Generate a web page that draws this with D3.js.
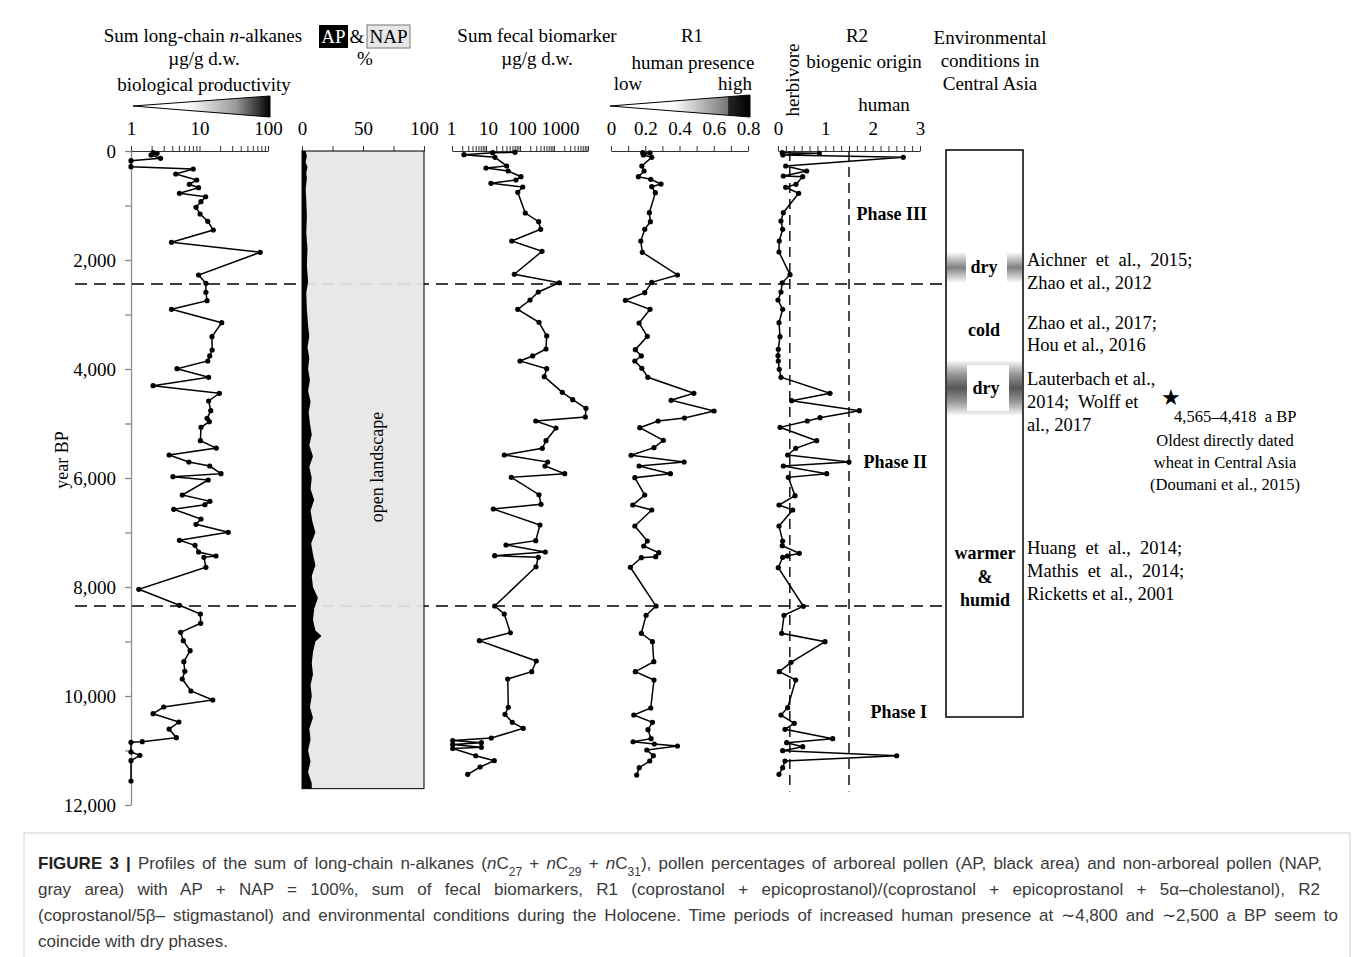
<!DOCTYPE html>
<html>
<head>
<meta charset="utf-8">
<script src="https://cdn.jsdelivr.net/npm/d3@7"></script>
<style>
  body { margin: 0; background: #fff; }
  svg text { font-family: "Liberation Serif", "Times New Roman", serif; }
  .cap { font-family: "Liberation Sans", Arial, sans-serif; font-size: 17px; fill: #3a3a3a; }
</style>
</head>
<body>
<svg id="chart" width="1357" height="957"></svg>
<script>
// ---- data: [year BP, value] ----
const alkanes = [[31,2.1],[42,2.4],[73,1.96],[134,2.7],[178,1.0],[288,1.0],[330,8.1],[422,4.5],[532,9.1],[611,7.1],
  [673,9.7],[776,5.1],[839,12.3],[930,10.5],[1033,8.9],[1156,10.2],[1290,13.2],[1450,15.9],[1675,3.9],[1859,77],
  [2275,9.7],[2428,12.4],[2593,12.4],[2747,12.9],[2905,3.9],[3150,21.1],[3407,15.2],[3651,15.3],[3761,14.1],[3853,13.2],
  [3994,4.7],[4152,13.6],[4306,2.1],[4446,19.5],[4587,13.6],[4765,14.6],[4905,12.9],[4967,13.9],[5070,10.5],[5316,10.3],
  [5450,17.6],[5578,3.6],[5706,7.0],[5780,14.1],[5921,20.6],[5976,4.1],[6037,13.4],[6312,5.6],[6428,14.2],[6490,12.0],
  [6574,4.2],[6752,10.5],[6850,8.9],[6996,26.3],[7143,5.1],[7235,8.6],[7358,9.7],[7431,17.4],[7455,11.6],[7639,12.4],
  [8042,1.3],[8336,5.1],[8495,10.3],[8666,10.4],[8831,5.3],[8985,5.8],[9169,7.3],[9370,5.9],[9547,6.1],[9688,5.6],
  [9908,7.5],[10073,15.6],[10202,3.0],[10325,2.1],[10477,5.0],[10606,3.6],[10765,4.6],[10838,1.46],[10850,1.0],[11028,1.0],
  [11088,1.35],[11187,1.0],[11560,1.0]];

const arborealPollen = [[0,3],[100,4],[200,3],[300,4.5],[400,3.5],[500,4],[700,3],[900,3.5],[1200,4],[1500,3.5],
  [1800,4.5],[2100,4],[2400,5],[2600,3.5],[2900,4],[3200,5],[3400,6],[3600,4.5],[3800,6],[4000,5],[4200,6.5],[4400,5],
  [4600,7],[4800,5.5],[5000,6.5],[5200,8],[5400,6],[5600,9],[5800,6],[6000,8],[6200,7],[6400,10],[6600,7],[6800,8.5],
  [7000,11],[7200,7.5],[7400,9],[7600,11],[7800,8],[8000,9],[8200,13],[8400,10],[8600,9],[8800,11],[8900,16],[9000,11],
  [9200,9],[9400,8],[9600,9],[9800,7],[10000,8],[10200,6.5],[10400,9],[10600,6],[10800,7],[11000,5],[11200,7],[11400,5],
  [11600,8],[11700,8]];

const fecal = [[24,71],[31,15.7],[68,2.25],[116,18.4],[275,40.6],[312,10],[367,45],[472,107],[532,76],[593,14],
  [661,120],[758,86],[1138,143],[1297,355],[1437,406],[1651,57],[1840,444],[2262,68],[2417,1432],[2587,345],
  [2734,197],[2905,86],[3143,362],[3394,610],[3633,582],[3761,236],[3853,100],[3994,610],[4141,518],[4428,1754],
  [4563,3550],[4721,8710],[4881,8320],[4954,290],[5083,1145],[5316,582],[5455,453],[5578,34.5],[5706,653],[5780,543],
  [5921,2065],[5987,55.5],[6307,362],[6483,415],[6569,16.4],[6862,387],[7150,290],[7229,38.7],[7358,554],[7426,18],
  [7455,345],[7628,295],[8349,18],[8495,34.5],[8839,52],[8985,6.4],[9358,301],[9554,221],[9688,43.5],[10207,45.3],
  [10336,36.2],[10483,59.4],[10593,125],[10771,14.3],[10817,1.05],[10857,7.3],[10890,1.05],[10941,7.3],[10963,1.05],
  [11096,5.0],[11187,17.5],[11303,6.7],[11437,2.9]];

const r1 = [[31,.185],[35,.228],[73,.189],[116,.238],[275,.18],[367,.193],[472,.16],[519,.232],[606,.292],[655,.238],
  [765,.259],[1132,.224],[1297,.23],[1437,.197],[1651,.174],[1859,.183],[2275,.388],[2409,.238],[2600,.197],[2739,.084],
  [2905,.228],[3156,.164],[3400,.212],[3646,.142],[3761,.177],[3853,.139],[3987,.18],[4152,.215],[4446,.484],[4574,.351],
  [4771,.602],[4899,.429],[4954,.275],[5077,.168],[5308,.306],[5444,.251],[5583,.117],[5706,.427],[5780,.164],[5921,.347],
  [5994,.139],[6312,.197],[6495,.127],[6587,.238],[6881,.139],[7156,.212],[7248,.191],[7371,.279],[7444,.261],[7462,.177],
  [7638,.113],[8349,.263],[8519,.205],[8850,.177],[9004,.242],[9371,.25],[9554,.142],[9706,.251],[10220,.232],[10349,.133],
  [10483,.242],[10618,.216],[10783,.234],[10839,.129],[10881,.253],[10917,.388],[10991,.209],[11095,.247],[11193,.226],
  [11316,.165],[11450,.15]];

const r2 = [[31,.09],[42,.873],[73,.106],[116,2.647],[275,.163],[367,.606],[459,.112],[472,.522],[611,.38],[666,.163],
  [776,.437],[1132,.112],[1284,.063],[1437,.099],[1651,.027],[1853,.021],[2270,.254],[2417,.09],[2587,.063],[2734,0],
  [2905,.099],[3150,.021],[3407,.042],[3639,.006],[3756,0],[3853,.006],[4006,.027],[4152,.063],[4446,1.099],[4582,.289],
  [4765,1.718],[4894,.887],[4954,.619],[5070,.042],[5316,.818],[5455,.374],[5578,.205],[5706,1.5],[5780,.112],[5921,1.029],
  [5987,.218],[6325,.359],[6495,.021],[6587,.311],[6881,.021],[7156,.099],[7242,.09],[7382,.45],[7431,.196],[7455,.099],
  [7646,.006],[8354,.535],[8519,.127],[8850,.078],[9004,.993],[9382,.275],[9554,.027],[9706,.374],[10215,.205],[10349,.063],
  [10501,.344],[10611,.148],[10783,1.156],[10857,.184],[10930,.522],[11004,.099],[11096,2.508],[11193,.148],[11316,.099],
  [11437,.021]];

const phaseBounds = [2440, 8350];          // horizontal dashed lines
const r2Thresholds = [0.25, 1.5];          // herbivore / human
const phases = [["Phase III", 1150], ["Phase II", 5700], ["Phase I", 10300]];
const yearTicks = d3.range(0, 12001, 1000);

const svg = d3.select("#chart");

// scales
const y = d3.scaleLinear().domain([0, 12000]).range([151, 805]);
const xAlk = d3.scaleLog().domain([1, 100]).range([131, 268]);
const xAP = d3.scaleLinear().domain([0, 100]).range([302, 424]);
const xFec = d3.scaleLog().domain([1, 10000]).range([452, 588]);
const xR1 = d3.scaleLinear().domain([0, 0.8]).range([611, 748]);
const xR2 = d3.scaleLinear().domain([0, 3]).range([778, 920]);

const defs = svg.append("defs");
function hGrad(id, stops, vertical) {
  const g = defs.append("linearGradient").attr("id", id)
    .attr("x1", 0).attr("y1", 0).attr("x2", vertical ? 0 : 1).attr("y2", vertical ? 1 : 0);
  stops.forEach(s => g.append("stop").attr("offset", s[0]).attr("stop-color", s[1]));
}
hGrad("wedgeAlk", [[0, "#fff"], [0.4, "#fff"], [0.75, "#999"], [1, "#000"]]);
hGrad("wedgeR1", [[0, "#fff"], [0.45, "#fff"], [0.84, "#777"], [0.86, "#222"], [1, "#000"]]);
hGrad("dry1", [[0, "#fff"], [0.5, "#808080"], [1, "#fff"]], true);
hGrad("dry2", [[0, "#fff"], [0.25, "#999"], [0.5, "#555"], [0.75, "#999"], [1, "#fff"]], true);

// ---- y axis ----
const yAx = svg.append("g").attr("transform", "translate(131,0)")
  .call(d3.axisLeft(y).tickValues(yearTicks).tickSize(6).tickSizeOuter(0).tickPadding(9)
    .tickFormat(d => d % 2000 === 0 ? d3.format(",")(d) : ""));
yAx.selectAll("path,line").attr("stroke", "#8a8a8a").attr("stroke-width", 1.3);
yAx.selectAll("text").attr("font-size", 19).attr("font-family", "Liberation Serif").attr("fill", "#000");
svg.append("text").attr("transform", "translate(62,460) rotate(-90)")
  .attr("text-anchor", "middle").attr("dy", "0.32em").attr("font-size", 18).text("year BP");

// ---- top axes ----
function topAxis(scale, minor, major, fmt, shifts) {
  const g = svg.append("g").attr("transform", "translate(0,151)")
    .call(d3.axisTop(scale).tickValues(minor).tickSize(5).tickSizeOuter(0).tickFormat(""));
  g.selectAll("path,line").attr("stroke", "#333");
  const l = svg.append("g").attr("transform", "translate(0,151)")
    .call(d3.axisTop(scale).tickValues(major).tickSize(0).tickPadding(16).tickFormat(fmt));
  l.select(".domain").remove();
  l.selectAll("text").attr("font-size", 19).attr("font-family", "Liberation Serif").attr("fill", "#000")
    .attr("dx", (d, i) => shifts ? shifts[i] : 0);
}
const logMinor = dec => d3.range(0, dec).flatMap(e => d3.range(1, 10).map(m => m * 10 ** e)).concat([10 ** dec]);
topAxis(xAlk, logMinor(2), [1, 10, 100], d3.format("d"));
topAxis(xAP, [0, 25, 50, 75, 100], [0, 50, 100], d3.format("d"));
topAxis(xFec, logMinor(4).filter(v => v <= 10000), [1, 10, 100, 1000], d3.format("d"), [-1, 2, 2, 6]);
topAxis(xR1, d3.range(0, 9).map(i => i / 10), [0, 0.2, 0.4, 0.6, 0.8], d => d === 0 ? "0" : d3.format(".1f")(d));
topAxis(xR2, d3.range(0, 19).map(i => i / 6), [0, 1, 2, 3], d3.format("d"));

// ---- phase boundaries (stop at the environment column) ----
phaseBounds.forEach(b => {
  svg.append("line").attr("x1", 75).attr("x2", 946).attr("y1", y(b)).attr("y2", y(b))
    .attr("stroke", "#000").attr("stroke-width", 1.5).attr("stroke-dasharray", "12,7");
});

// ---- AP / NAP panel ----
svg.append("rect").attr("x", xAP(0)).attr("y", y(0)).attr("width", xAP(100) - xAP(0))
  .attr("height", y(11700) - y(0)).attr("fill", "#e6e6e6").attr("fill-opacity", 0.92)
  .attr("stroke", "#000").attr("stroke-width", 1);
svg.append("path").datum(arborealPollen)
  .attr("d", d3.area().y(d => y(d[0])).x0(xAP(0)).x1(d => xAP(d[1])))
  .attr("fill", "#000");
svg.append("text").attr("transform", `translate(${xAP(62)},${y(5800)}) rotate(-90)`)
  .attr("text-anchor", "middle").attr("dy", "0.32em").attr("font-size", 18).text("open landscape");

// ---- R2 threshold lines ----
r2Thresholds.forEach(t => {
  svg.append("line").attr("x1", xR2(t)).attr("x2", xR2(t)).attr("y1", y(0)).attr("y2", y(11750))
    .attr("stroke", "#000").attr("stroke-width", 1.4).attr("stroke-dasharray", "10,6");
});

// ---- profiles ----
function profile(data, xs) {
  svg.append("path").datum(data)
    .attr("d", d3.line().x(d => xs(d[1])).y(d => y(d[0])))
    .attr("fill", "none").attr("stroke", "#000").attr("stroke-width", 1.5);
  svg.append("g").selectAll("circle").data(data).join("circle")
    .attr("cx", d => xs(d[1])).attr("cy", d => y(d[0])).attr("r", 2.6).attr("fill", "#000");
}
profile(alkanes, xAlk);
profile(fecal, xFec);
profile(r1, xR1);
profile(r2, xR2);

// ---- headers ----
function label(x, yy, txt, opts = {}) {
  const t = svg.append("text").attr("x", x).attr("y", yy).attr("text-anchor", opts.anchor || "middle")
    .attr("dy", "0.34em").attr("font-size", opts.size || 19);
  if (opts.bold) t.attr("font-weight", "bold");
  t.text(txt);
  return t;
}
phases.forEach(p => label(927, y(p[1]), p[0], { anchor: "end", size: 18, bold: true }));

const h1 = svg.append("text").attr("x", 203).attr("y", 36).attr("text-anchor", "middle")
  .attr("dy", "0.34em").attr("font-size", 19);
h1.append("tspan").text("Sum long-chain ");
h1.append("tspan").attr("font-style", "italic").text("n");
h1.append("tspan").text("-alkanes");
label(204, 59, "µg/g d.w.");
label(204, 85, "biological productivity");
svg.append("path").attr("d", "M133,106 L270,96 L270,117 Z").attr("fill", "url(#wedgeAlk)").attr("stroke", "#000");

svg.append("rect").attr("x", 319).attr("y", 25).attr("width", 29).attr("height", 23).attr("fill", "#000");
label(333.5, 37, "AP").attr("fill", "#fff");
label(357, 37, "&");
svg.append("rect").attr("x", 367).attr("y", 25).attr("width", 43).attr("height", 23).attr("fill", "#e6e6e6").attr("stroke", "#777");
label(388.5, 37, "NAP");
label(365, 59, "%");

label(537, 36, "Sum fecal biomarker");
label(537, 59, "µg/g d.w.");

label(692, 36, "R1");
label(693, 63, "human presence");
label(628, 84, "low");
label(735, 84, "high");
svg.append("path").attr("d", "M610,106 L750,95 L750,117 Z").attr("fill", "url(#wedgeR1)").attr("stroke", "#000");
svg.append("line").attr("x1", 729).attr("x2", 729).attr("y1", 97).attr("y2", 115).attr("stroke", "#000");

label(857, 36, "R2");
label(864, 62, "biogenic origin");
svg.append("text").attr("transform", "translate(793,80) rotate(-90)").attr("text-anchor", "middle")
  .attr("dy", "0.34em").attr("font-size", 19).text("herbivore");
label(884, 105, "human");

label(990, 38, "Environmental");
label(990, 61, "conditions in");
label(990, 84, "Central Asia");

// ---- environmental conditions column ----
svg.append("rect").attr("x", 946).attr("y", 150).attr("width", 77).attr("height", 567)
  .attr("fill", "#fff").attr("stroke", "#000").attr("stroke-width", 1.5);
svg.append("rect").attr("x", 947).attr("y", 252).attr("width", 75).attr("height", 31).attr("fill", "url(#dry1)");
svg.append("rect").attr("x", 966).attr("y", 252).attr("width", 41).attr("height", 31).attr("fill", "#fff");
svg.append("rect").attr("x", 947).attr("y", 360).attr("width", 75).attr("height", 56).attr("fill", "url(#dry2)");
svg.append("rect").attr("x", 967).attr("y", 365).attr("width", 42).attr("height", 46).attr("fill", "#fff");
label(984, 267, "dry", { size: 18, bold: true });
label(984, 330, "cold", { size: 18, bold: true });
label(986, 388, "dry", { size: 18, bold: true });
label(985, 553, "warmer", { size: 18, bold: true });
label(985, 577, "&", { size: 18, bold: true });
label(985, 600, "humid", { size: 18, bold: true });

const refs = [["Aichner  et  al.,  2015;", 260], ["Zhao et al., 2012", 283], ["Zhao et al., 2017;", 323],
  ["Hou et al., 2016", 345], ["Lauterbach et al.,", 379], ["2014;  Wolff et", 402], ["al., 2017", 425],
  ["Huang  et  al.,  2014;", 548], ["Mathis  et  al.,  2014;", 571], ["Ricketts et al., 2001", 594]];
refs.forEach(r => label(1027, r[1], r[0], { anchor: "start", size: 18.5 }).style("white-space", "pre"));
label(1171, 398, "★", { size: 22 });
label(1174, 416, "4,565–4,418  a BP", { anchor: "start", size: 16.5 }).style("white-space", "pre");
label(1225, 440, "Oldest directly dated", { size: 16.5 });
label(1225, 462, "wheat in Central Asia", { size: 16.5 });
label(1225, 484, "(Doumani et al., 2015)", { size: 16.5 });

// ---- caption ----
svg.append("rect").attr("x", 24).attr("y", 833).attr("width", 1326).attr("height", 130)
  .attr("fill", "none").attr("stroke", "#d0d0d0");
const cap = svg.append("g");
const l1 = cap.append("text").attr("class", "cap").attr("x", 38).attr("y", 869);
l1.append("tspan").attr("font-weight", "bold").attr("fill", "#222").text("FIGURE 3 | ");
l1.append("tspan").text("Profiles of the sum of long-chain n-alkanes (");
["27", "29", "31"].forEach((s, i) => {
  l1.append("tspan").attr("font-style", "italic").text("n");
  l1.append("tspan").text("C");
  l1.append("tspan").attr("baseline-shift", "sub").attr("font-size", 12).text(s);
  if (i < 2) l1.append("tspan").text(" + ");
});
l1.append("tspan").text("), pollen percentages of arboreal pollen (AP, black area) and non-arboreal pollen (NAP,");
const l2 = cap.append("text").attr("class", "cap").attr("x", 38).attr("y", 895)
  .text("gray area) with AP + NAP = 100%, sum of fecal biomarkers, R1 (coprostanol + epicoprostanol)/(coprostanol + epicoprostanol + 5α–cholestanol), R2");
const l3 = cap.append("text").attr("class", "cap").attr("x", 38).attr("y", 921)
  .text("(coprostanol/5β– stigmastanol) and environmental conditions during the Holocene. Time periods of increased human presence at ∼4,800 and ∼2,500 a BP seem to");
cap.append("text").attr("class", "cap").attr("x", 38).attr("y", 947).text("coincide with dry phases.");

// justify the first three caption lines by widening word gaps
[[l1, 1284], [l2, 1282], [l3, 1300]].forEach(([t, target]) => {
  const natural = t.node().getComputedTextLength();
  const gaps = (t.text().match(/ /g) || []).length;
  if (gaps) t.attr("word-spacing", Math.max(0, (target - natural) / gaps));
});
</script>
</body>
</html>
